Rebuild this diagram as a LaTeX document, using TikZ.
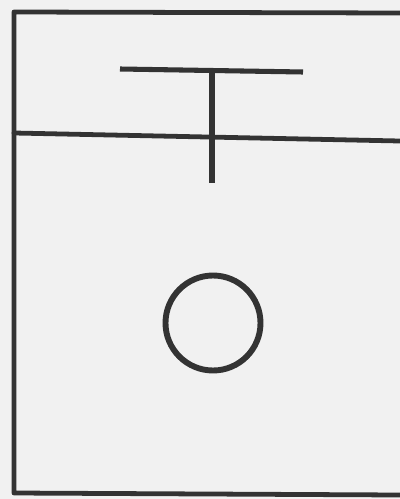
\documentclass[tikz,border=0pt]{standalone}
\usepackage{xcolor}
\definecolor{ink}{HTML}{333333}
\definecolor{paper}{HTML}{F1F1F1}
\begin{document}
\begin{tikzpicture}[x=0.025cm,y=-0.025cm,
  wall/.style={ink,line width=3.4pt,line cap=round,line join=round},
  stroke/.style={ink,line width=3.6pt,line cap=butt}]
\fill[paper] (0,0) rectangle (400,499);
\useasboundingbox (0,0) rectangle (400,499);
% frame
\draw[wall] (400,13) -- (14,12) -- (14,493) -- (400,495);
\draw[wall] (14,133) -- (400,141);
% the T
\coordinate (barL) at (120,69);
\coordinate (barR) at (303,72);
\coordinate (stemT) at (212,70);
\coordinate (stemB) at (212,183);
\draw[stroke] (barL) -- (barR);
\draw[stroke] (stemT) -- (stemB);
% ring
\node[draw=ink,line width=4.2pt,circle,minimum size=95*0.025cm,inner sep=0pt] (ring) at (213,323) {};
\end{tikzpicture}
\end{document}
